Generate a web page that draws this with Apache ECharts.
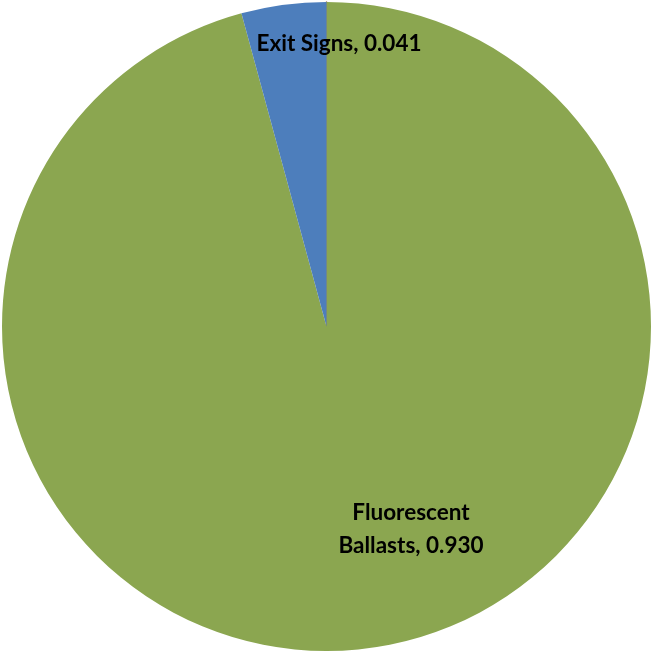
<!DOCTYPE html>
<html><head><meta charset="utf-8">
<script src="https://cdn.jsdelivr.net/npm/echarts@6/dist/echarts.min.js"></script>
<style>html,body{margin:0;padding:0;background:#fff}#c{width:652px;height:653px}</style>
</head><body><div id="c"></div>
<script>
const categories = ['', 'Fluorescent Ballasts', 'Exit Signs'];
const values = [0, 0.930, 0.041];
const colors = ['#B06A4A', '#8BA650', '#4D7EBC'];
const labelSpots = [null, [411, 529], [339, 44]];

const chart = echarts.init(document.getElementById('c'), null, {renderer: 'canvas'});
chart.setOption({
  animation: false,
  series: [{
    type: 'pie',
    center: [326.5, 326.5],
    radius: 324.5,
    startAngle: 90,
    clockwise: true,
    stillShowZeroSum: true,
    minAngle: 0,
    data: categories.map((c, i) => ({
      name: c, value: values[i],
      itemStyle: {color: colors[i], borderColor: i === 0 ? '#A07A5A' : 'transparent', borderWidth: i === 0 ? 1.5 : 0},
      label: {show: i !== 0}
    })),
    label: {
      position: 'inside',
      formatter: p => p.dataIndex === 1 ? 'Fluorescent\nBallasts, ' + p.value.toFixed(3) : p.name + ', ' + p.value.toFixed(3),
      fontFamily: 'Lato, "Open Sans", sans-serif',
      fontWeight: 'bold',
      fontSize: 22.5,
      lineHeight: 33,
      color: '#000',
      align: 'center'
    },
    labelLine: {show: false},
    labelLayout: function (p) {
      const s = labelSpots[p.dataIndex];
      return s ? {x: s[0], y: s[1], align: 'center', verticalAlign: 'middle'} : {};
    },
    emphasis: {disabled: true}
  }]
});
</script></body></html>
